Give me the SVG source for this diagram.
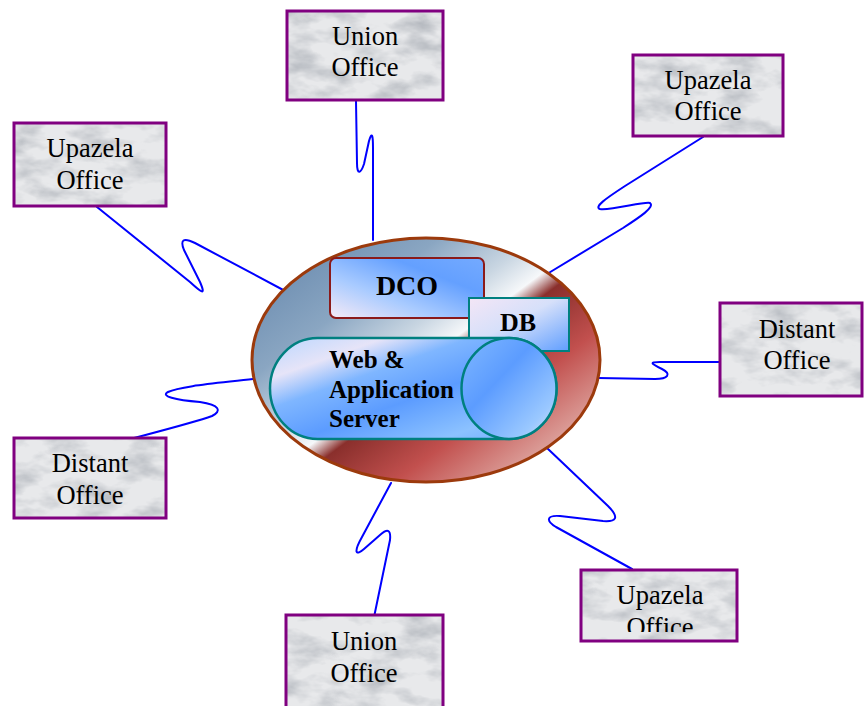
<svg xmlns="http://www.w3.org/2000/svg" width="864" height="706" viewBox="0 0 864 706">
  <defs>
    <style>
      .office rect.frame { fill: none; stroke: #800080; stroke-width: 3; }
      .office rect.grain { fill: #e6e7e9; filter: url(#marble); }
      .office text { font-family: "Liberation Serif", "Times New Roman", serif; font-size: 26.5px; fill: #000; text-anchor: middle; }
      .hub text { font-family: "Liberation Serif", "Times New Roman", serif; font-weight: bold; fill: #000; }
      #links path { fill: none; stroke: #0000ff; stroke-width: 2; stroke-linejoin: round; stroke-linecap: round; }
    </style>
    <!-- grey marble texture for the office boxes -->
    <filter id="marble" x="0" y="0" width="100%" height="100%" color-interpolation-filters="sRGB">
      <feTurbulence type="fractalNoise" baseFrequency="0.025 0.05" numOctaves="4" seed="7" result="noise"/>
      <feColorMatrix in="noise" type="matrix" values="0 0 0 0 0.64  0 0 0 0 0.66  0 0 0 0 0.69  1.6 0 0 0 -0.68" result="streaks"/>
      <feFlood flood-color="#e8e9eb" result="paper"/>
      <feMerge>
        <feMergeNode in="paper"/>
        <feMergeNode in="streaks"/>
      </feMerge>
    </filter>
    <linearGradient id="hubFill" gradientUnits="userSpaceOnUse" x1="330" y1="232" x2="520" y2="488">
      <stop offset="0" stop-color="#6f8fb2"/>
      <stop offset="0.22" stop-color="#8aa6c2"/>
      <stop offset="0.4" stop-color="#c9d6e2"/>
      <stop offset="0.5" stop-color="#f6f8fa"/>
      <stop offset="0.56" stop-color="#8a2f2c"/>
      <stop offset="0.75" stop-color="#c2504e"/>
      <stop offset="1" stop-color="#e2b2ac"/>
    </linearGradient>
    <linearGradient id="dcoFill" x1="0" y1="1" x2="1" y2="0">
      <stop offset="0" stop-color="#f6eaf6"/>
      <stop offset="0.35" stop-color="#a9cbff"/>
      <stop offset="0.7" stop-color="#64a0ff"/>
      <stop offset="1" stop-color="#74aaff"/>
    </linearGradient>
    <linearGradient id="dbFill" x1="0" y1="0" x2="1" y2="1">
      <stop offset="0" stop-color="#f4e6f6"/>
      <stop offset="0.45" stop-color="#d6e0fa"/>
      <stop offset="1" stop-color="#5f9eff"/>
    </linearGradient>
    <linearGradient id="serverFill" x1="0" y1="0" x2="1" y2="1">
      <stop offset="0" stop-color="#b8d6ff"/>
      <stop offset="0.2" stop-color="#e6e4f8"/>
      <stop offset="0.35" stop-color="#7fb6ff"/>
      <stop offset="0.55" stop-color="#5c9cff"/>
      <stop offset="0.8" stop-color="#8cc2ff"/>
      <stop offset="1" stop-color="#6aa6ff"/>
    </linearGradient>
    <linearGradient id="capFill" x1="0" y1="0" x2="1" y2="1">
      <stop offset="0" stop-color="#80b8ff"/>
      <stop offset="0.4" stop-color="#5c9cff"/>
      <stop offset="0.8" stop-color="#9ac8ff"/>
      <stop offset="1" stop-color="#e4e0f6"/>
    </linearGradient>
    <!-- lower label of the south-east box is cut short -->
    <clipPath id="cutLow">
      <rect x="581" y="570" width="156" height="62"/>
    </clipPath>
  </defs>

  <rect width="864" height="706" fill="#ffffff"/>

  <!-- zig-zag network links -->
  <g id="links">
    <path d="M356,101 L357,163 C357,176 361,173 364,164 L369,141 C372,131 373,135 373,148 L373,240"/>
    <path d="M703,137 L625,186 C605,199 594,207 600,209 C610,211 645,201 650,203 C655,207 640,217 623,228 L547,274"/>
    <path d="M97,207 L190,282 C202,293 206,296 200,282 L184,250 C180,240 183,237 195,243 L287,292"/>
    <path d="M97,448 C140,436 190,424 212,416 C222,411 220,405 200,402 C175,400 160,396 168,392 C180,386 220,383 253,379"/>
    <path d="M598,378 L655,379 C668,379 672,374 662,369 C652,364 648,362 660,362 L719,362"/>
    <path d="M547,448 L608,506 C620,518 616,522 603,521 L560,516 C546,515 546,521 556,527 L632,569"/>
    <path d="M391,483 L362,537 C353,553 356,556 364,549 L380,535 C388,528 391,530 390,540 L373,622"/>
  </g>

  <!-- central district hub -->
  <g id="hub" class="hub">
    <ellipse cx="426" cy="360" rx="174" ry="122" fill="url(#hubFill)" stroke="#9c3a0c" stroke-width="3"/>
    <g id="dco">
      <rect x="330" y="258" width="154" height="60" rx="6" fill="url(#dcoFill)" stroke="#8b1a1a" stroke-width="2"/>
      <text x="407" y="295" font-size="28" text-anchor="middle">DCO</text>
    </g>
    <g id="db">
      <rect x="469" y="298" width="100" height="53" fill="url(#dbFill)" stroke="#008080" stroke-width="2"/>
      <text x="518" y="331" font-size="26" text-anchor="middle">DB</text>
    </g>
    <g id="server">
      <path d="M317.5,338 L509,338 A47.5,50.5 0 0 1 509,439 L317.5,439 A47.5,50.5 0 0 1 317.5,338 Z" fill="url(#serverFill)" stroke="#008080" stroke-width="2.5"/>
      <ellipse cx="509" cy="388.5" rx="47.5" ry="50.5" fill="url(#capFill)" stroke="#008080" stroke-width="2.5"/>
      <text x="329" y="368" font-size="25">Web &amp;</text>
      <text x="329" y="398" font-size="25">Application</text>
      <text x="329" y="427" font-size="25">Server</text>
    </g>
  </g>

  <!-- remote offices -->
  <g id="union-top" class="office">
    <rect class="grain" x="287" y="11" width="156" height="89"/>
    <rect class="frame" x="287" y="11" width="156" height="89"/>
    <text x="365" y="45">Union</text>
    <text x="365" y="76">Office</text>
  </g>
  <g id="upazela-ne" class="office">
    <rect class="grain" x="633" y="55" width="150" height="81"/>
    <rect class="frame" x="633" y="55" width="150" height="81"/>
    <text x="708" y="89">Upazela</text>
    <text x="708" y="120">Office</text>
  </g>
  <g id="upazela-nw" class="office">
    <rect class="grain" x="14" y="123" width="152" height="83"/>
    <rect class="frame" x="14" y="123" width="152" height="83"/>
    <text x="90" y="157">Upazela</text>
    <text x="90" y="189">Office</text>
  </g>
  <g id="distant-e" class="office">
    <rect class="grain" x="720" y="303" width="142" height="93"/>
    <rect class="frame" x="720" y="303" width="142" height="93"/>
    <text x="797" y="338">Distant</text>
    <text x="797" y="369">Office</text>
  </g>
  <g id="distant-w" class="office">
    <rect class="grain" x="14" y="438" width="152" height="80"/>
    <rect class="frame" x="14" y="438" width="152" height="80"/>
    <text x="90" y="472">Distant</text>
    <text x="90" y="504">Office</text>
  </g>
  <g id="upazela-se" class="office">
    <rect class="grain" x="581" y="570" width="156" height="71"/>
    <rect class="frame" x="581" y="570" width="156" height="71"/>
    <g clip-path="url(#cutLow)">
      <text x="660" y="604">Upazela</text>
      <text x="660" y="636">Office</text>
    </g>
  </g>
  <g id="union-bottom" class="office">
    <rect class="grain" x="286" y="615" width="157" height="100"/>
    <rect class="frame" x="286" y="615" width="157" height="100"/>
    <text x="364" y="650">Union</text>
    <text x="364" y="682">Office</text>
  </g>
</svg>
